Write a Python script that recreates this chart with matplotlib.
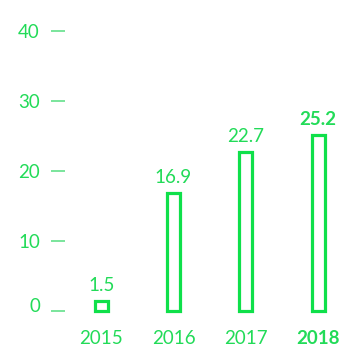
import matplotlib.pyplot as plt
import matplotlib.transforms as mtransforms

years = ["2015", "2016", "2017", "2018"]
values = [1.5, 16.9, 22.7, 25.2]
yticks = [0, 10, 20, 30, 40]

green = "#0fe04a"
text_green = "#22db58"
dash_green = "#6fe394"

plt.rcParams["font.family"] = ["Lato", "DejaVu Sans"]

fig = plt.figure(figsize=(3.42, 3.52), dpi=100)
# axes placed in pixel units: baseline at y=311 from top, left edge at x=65
ax = fig.add_axes([65 / 342, 41 / 352, 277 / 342, 311 / 352])
ax.set_xlim(-0.5, 3.33)
ax.set_ylim(0, 311 / 7.0)

x = range(len(years))
ax.bar(x, values, width=0.18, facecolor="white", edgecolor=green,
       linewidth=2.3, clip_on=False)

for i, (xi, v) in enumerate(zip(x, values)):
    last = i == len(values) - 1
    ax.annotate(f"{v:.1f}", (xi, v), xytext=(0, 5), textcoords="offset points",
                ha="center", va="bottom", fontsize=13.5, color=text_green,
                fontweight="bold" if last else "normal")

for s in ax.spines.values():
    s.set_visible(False)

ax.set_yticks(yticks)
ax.set_yticklabels([str(t) for t in yticks])
ax.tick_params(axis="y", length=10, width=1.3, color=dash_green, pad=8,
               labelsize=13.5, labelcolor=text_green)
# lift the zero label a little above its tick
zero = ax.get_yticklabels()[0]
zero.set_transform(zero.get_transform() +
                   mtransforms.ScaledTranslation(0, 4 / 72, fig.dpi_scale_trans))

ax.set_xticks(list(x))
ax.set_xticklabels(years)
ax.tick_params(axis="x", length=0, pad=14, labelsize=13.5, labelcolor=text_green)
ax.get_xticklabels()[-1].set_fontweight("bold")

fig.savefig("out.png", dpi=100)
